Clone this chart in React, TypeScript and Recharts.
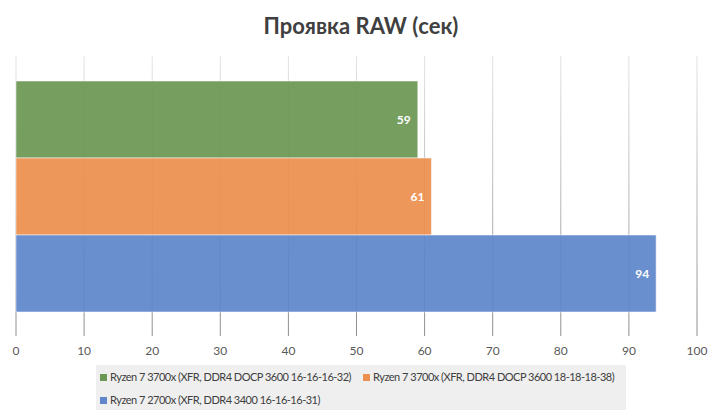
import { BarChart, Bar, XAxis, YAxis, CartesianGrid, LabelList } from 'recharts';

const categories = ['Проявка RAW'];
const seriesNames = [
  'Ryzen 7 3700x (XFR, DDR4 DOCP 3600 16-16-16-32)',
  'Ryzen 7 3700x (XFR, DDR4 DOCP 3600 18-18-18-38)',
  'Ryzen 7 2700x (XFR, DDR4 3400 16-16-16-31)',
];
const seriesValues = [59, 61, 94];
const seriesColors = ['#6a9753', '#ed8f4e', '#5f86cb'];
const xTicks = [0, 10, 20, 30, 40, 50, 60, 70, 80, 90, 100];

const data = categories.map((name) => {
  const row: any = { name };
  seriesValues.forEach((v, i) => (row['s' + i] = v));
  return row;
});

const font = 'Lato, "Open Sans", sans-serif';

export default function App() {
  return (
    <div style={{ position: 'absolute', left: 0, top: 0, width: 722, height: 418, background: '#fff', fontFamily: font }}>
      <div
        style={{
          position: 'absolute',
          top: 12,
          width: 722,
          textAlign: 'center',
          fontSize: 22,
          fontWeight: 'bold',
          color: '#404040',
        }}
      >
        Проявка RAW (сек)
      </div>
      <BarChart
        width={722}
        height={418}
        data={data}
        layout="vertical"
        margin={{ top: 56, right: 25, bottom: 52, left: 16 }}
        barCategoryGap={25}
        barGap={0}
      >
        <defs>
          <linearGradient id="gridGrad" gradientUnits="userSpaceOnUse" x1="0" y1="56" x2="0" y2="336">
            <stop offset="0%" stopColor="#e4e4e4" />
            <stop offset="100%" stopColor="#8c8c8c" />
          </linearGradient>
        </defs>
        <CartesianGrid horizontal={false} stroke="url(#gridGrad)" />
        <XAxis
          type="number"
          domain={[0, 100]}
          ticks={xTicks}
          axisLine={false}
          tickLine={false}
          tick={{ fill: '#595959', fontSize: 12, fontFamily: font }}
          tickMargin={4}
        />
        <YAxis type="category" dataKey="name" hide />
        {seriesNames.map((name, i) => (
          <Bar
            key={name}
            dataKey={'s' + i}
            name={name}
            fill={seriesColors[i]}
            fillOpacity={0.93}
            stroke="#ffffff"
            strokeOpacity={0.5}
            isAnimationActive={false}
          >
            <LabelList
              dataKey={'s' + i}
              position="insideRight"
              offset={7}
              fill="#ffffff"
              fontSize={12}
              fontWeight="bold"
              fontFamily={font}
            />
          </Bar>
        ))}
      </BarChart>
      <div
        style={{
          position: 'absolute',
          left: 96,
          top: 365,
          width: 530,
          height: 45,
          background: '#efefef',
          display: 'flex',
          flexWrap: 'wrap',
          alignContent: 'flex-start',
          rowGap: 9,
          columnGap: 12,
          padding: '5px 0 0 4px',
          boxSizing: 'border-box',
          fontSize: 11,
          lineHeight: '14px',
          letterSpacing: -0.5,
          color: '#404040',
        }}
      >
        {seriesNames.map((name, i) => (
          <div key={name} style={{ display: 'flex', alignItems: 'center', whiteSpace: 'nowrap' }}>
            <span style={{ width: 7, height: 7, background: seriesColors[i], marginRight: 3, display: 'inline-block' }} />
            {name}
          </div>
        ))}
      </div>
    </div>
  );
}
